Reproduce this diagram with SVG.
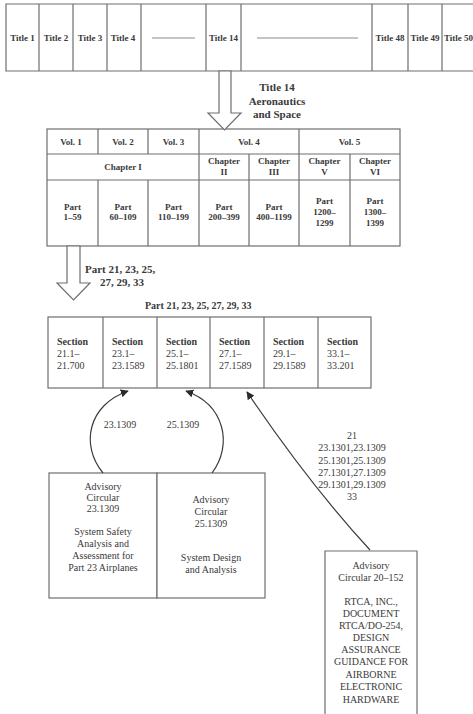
<svg xmlns="http://www.w3.org/2000/svg" width="473" height="714" viewBox="0 0 473 714">
<defs>
<style>
.ln{fill:none;stroke:#6e6e6e;stroke-width:1.2}
.box{fill:#fff;stroke:#6e6e6e;stroke-width:1.2}
.b{font-family:"Liberation Serif",serif;font-weight:bold;fill:#3a3a3a}
.r{font-family:"Liberation Serif",serif;fill:#3a3a3a}
.t9{font-size:9px}
.t10{font-size:10px}
.t11{font-size:11px}
.c{text-anchor:middle}
.dash{stroke:#8a8a8a;stroke-width:1}
.blk{fill:#fff;stroke:#6e6e6e;stroke-width:1.2;stroke-linejoin:miter}
.cur{fill:none;stroke:#3a3a3a;stroke-width:1.2}
</style>
<marker id="ah" viewBox="0 0 10 10" refX="9" refY="5" markerWidth="8" markerHeight="8" markerUnits="userSpaceOnUse" orient="auto">
<path d="M0,0 L10,5 L0,10 z" fill="#2a2a2a"/>
</marker>
</defs>
<rect width="473" height="714" fill="#fff"/>

<g id="titles">
<path class="ln" d="M480,4 H6 V71 H480 M39,4 V71 M73,4 V71 M107,4 V71 M141,4 V71 M206,4 V71 M241,4 V71 M372,4 V71 M408,4 V71 M442,4 V71"/>
<g class="b t9 c">
<text x="22.5" y="41">Title 1</text>
<text x="56" y="41">Title 2</text>
<text x="90" y="41">Title 3</text>
<text x="123" y="41">Title 4</text>
<text x="223.5" y="41">Title 14</text>
<text x="390" y="41">Title 48</text>
<text x="425" y="41">Title 49</text>
</g>
<text class="b t9" x="444" y="41">Title 50</text>
<line class="dash" x1="152" y1="38" x2="195" y2="38"/>
<line class="dash" x1="257" y1="38" x2="358" y2="38"/>
</g>

<g id="title14-label">
<text class="b t11 c" x="277" y="91">Title 14</text>
<text class="b t11 c" x="277" y="105">Aeronautics</text>
<text class="b t11 c" x="277" y="118">and Space</text>
</g>

<g id="volumes">
<rect class="box" x="47" y="129" width="353" height="117"/>
<path class="ln" d="M47,154 H400 M47,180 H400 M98,129 V154 M148,129 V154 M199,129 V246 M299,129 V246 M249,154 V246 M350,154 V246 M98,180 V246 M148,180 V246"/>
<g class="b t9 c">
<text x="71" y="145">Vol. 1</text>
<text x="123" y="145">Vol. 2</text>
<text x="173.5" y="145">Vol. 3</text>
<text x="249" y="145">Vol. 4</text>
<text x="349.5" y="145">Vol. 5</text>
<text x="123" y="170">Chapter I</text>
<text x="224" y="164">Chapter</text><text x="224" y="175">II</text>
<text x="274" y="164">Chapter</text><text x="274" y="175">III</text>
<text x="324.5" y="164">Chapter</text><text x="324.5" y="175">V</text>
<text x="375" y="164">Chapter</text><text x="375" y="175">VI</text>
<text x="72.5" y="210">Part</text><text x="72.5" y="220">1–59</text>
<text x="123" y="210">Part</text><text x="123" y="220">60–109</text>
<text x="173.5" y="210">Part</text><text x="173.5" y="220">110–199</text>
<text x="224" y="210">Part</text><text x="224" y="220">200–399</text>
<text x="274" y="210">Part</text><text x="274" y="220">400–1199</text>
<text x="324.5" y="204">Part</text><text x="324.5" y="215">1200–</text><text x="324.5" y="226">1299</text>
<text x="375" y="204">Part</text><text x="375" y="215">1300–</text><text x="375" y="226">1399</text>
</g>
</g>

<g id="parts-label">
<text class="b t11" x="85" y="273">Part 21, 23, 25,</text>
<text class="b t11 c" x="122" y="286">27, 29, 33</text>
<text class="b t10" x="145" y="309">Part 21, 23, 25, 27, 29, 33</text>
</g>

<g id="sections">
<rect class="box" x="48" y="317" width="323" height="71"/>
<path class="ln" d="M103,317 V388 M157,317 V388 M210,317 V388 M264,317 V388 M318,317 V388"/>
<g class="t10">
<text class="b" x="57" y="345">Section</text><text class="r" x="57" y="357">21.1–</text><text class="r" x="57" y="369">21.700</text>
<text class="b" x="112" y="345">Section</text><text class="r" x="112" y="357">23.1–</text><text class="r" x="112" y="369">23.1589</text>
<text class="b" x="166" y="345">Section</text><text class="r" x="166" y="357">25.1–</text><text class="r" x="166" y="369">25.1801</text>
<text class="b" x="219" y="345">Section</text><text class="r" x="219" y="357">27.1–</text><text class="r" x="219" y="369">27.1589</text>
<text class="b" x="273" y="345">Section</text><text class="r" x="273" y="357">29.1–</text><text class="r" x="273" y="369">29.1589</text>
<text class="b" x="327" y="345">Section</text><text class="r" x="327" y="357">33.1–</text><text class="r" x="327" y="369">33.201</text>
</g>
</g>

<g id="ac-23-1309">
<rect class="box" x="49" y="473" width="108" height="125"/>
<g class="r t10 c">
<text x="103" y="490">Advisory</text>
<text x="103" y="501">Circular</text>
<text x="103" y="512">23.1309</text>
<text x="103" y="535">System Safety</text>
<text x="103" y="547">Analysis and</text>
<text x="103" y="559">Assessment for</text>
<text x="103" y="571">Part 23 Airplanes</text>
</g>
</g>

<g id="ac-25-1309">
<rect class="box" x="157" y="473" width="108" height="125"/>
<g class="r t10 c">
<text x="211" y="503">Advisory</text>
<text x="211" y="515">Circular</text>
<text x="211" y="527">25.1309</text>
<text x="211" y="561">System Design</text>
<text x="211" y="573">and Analysis</text>
</g>
</g>

<g id="ac-20-152">
<path class="ln" d="M325,720 V551 H417 V720"/>
<g class="r t10 c">
<text x="371" y="569">Advisory</text>
<text x="371" y="581">Circular 20–152</text>
<text x="371" y="605">RTCA, INC.,</text>
<text x="371" y="617">DOCUMENT</text>
<text x="371" y="629">RTCA/DO-254,</text>
<text x="371" y="641">DESIGN</text>
<text x="371" y="653">ASSURANCE</text>
<text x="371" y="665">GUIDANCE FOR</text>
<text x="371" y="678">AIRBORNE</text>
<text x="371" y="690">ELECTRONIC</text>
<text x="371" y="703">HARDWARE</text>
</g>
</g>

<g id="connectors">
<polygon class="blk" points="219,71 231,71 231,113 241,113 224.5,130 208,113 219,113"/>
<polygon class="blk" points="67,246 80,246 80,283 90,283 73.5,300 57,283 67,283"/>
<path class="cur" d="M103,473 C80,445 88,405 128,391" marker-end="url(#ah)"/>
<path class="cur" d="M212,473 C233,445 225,405 186,391" marker-end="url(#ah)"/>
<path class="cur" d="M370,550 Q310,485 247,392" marker-end="url(#ah)"/>
<g class="r t10 c">
<text x="120" y="428">23.1309</text>
<text x="183" y="428">25.1309</text>
<text x="352" y="439">21</text>
<text x="352" y="451">23.1301,23.1309</text>
<text x="352" y="464">25.1301,25.1309</text>
<text x="352" y="476">27.1301,27.1309</text>
<text x="352" y="488">29.1301,29.1309</text>
<text x="352" y="500">33</text>
</g>
</g>
</svg>
